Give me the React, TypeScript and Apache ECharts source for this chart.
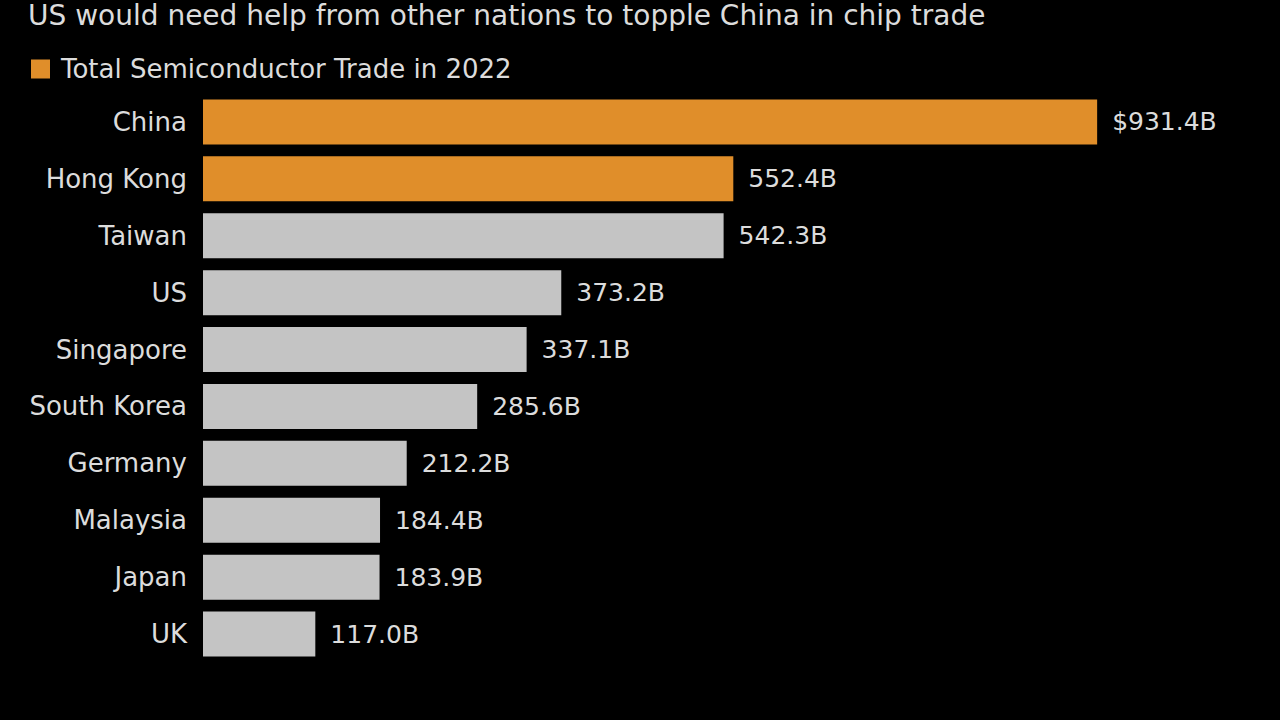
import React, { useEffect, useRef } from "react";
import * as echarts from "echarts";

const categories = ["China", "Hong Kong", "Taiwan", "US", "Singapore", "South Korea", "Germany", "Malaysia", "Japan", "UK"];
const values = [931.4, 552.4, 542.3, 373.2, 337.1, 285.6, 212.2, 184.4, 183.9, 117.0];
const highlighted = ["China", "Hong Kong"];
const titleText = "US would need help from other nations to topple China in chip trade";
const legendText = "Total Semiconductor Trade in 2022";

const ORANGE = "#E08E2A";
const GRAY = "#C4C4C4";
const TEXT = "#DCDCDC";
const FONT = "'DejaVu Sans', sans-serif";

export default function App() {
  const ref = useRef<HTMLDivElement>(null);
  useEffect(() => {
    if (!ref.current) return;
    const chart = echarts.init(ref.current, null, { renderer: "svg" });
    const data = values.map((v, i) => ({
      value: v,
      itemStyle: { color: highlighted.includes(categories[i]) ? ORANGE : GRAY },
    }));
    chart.setOption({
      animation: false,
      backgroundColor: "#000000",
      textStyle: { fontFamily: FONT },
      title: {
        text: titleText,
        left: 23,
        top: -4,
        textStyle: { color: TEXT, fontSize: 28, fontWeight: "normal", fontFamily: FONT },
      },
      legend: {
        show: true,
        left: 26,
        top: 51,
        itemWidth: 19,
        itemHeight: 19,
        itemGap: 10,
        icon: "rect",
        data: [{ name: legendText, itemStyle: { color: ORANGE } }],
        textStyle: { color: TEXT, fontSize: 26, fontFamily: FONT, padding: [0, 0, 0, 6] },
      },
      grid: { left: 203, right: 117, top: 93.5, height: 569, containLabel: false },
      xAxis: {
        type: "value",
        min: 0,
        max: 1000,
        show: false,
      },
      yAxis: {
        type: "category",
        data: categories,
        inverse: true,
        axisLine: { show: false },
        axisTick: { show: false },
        axisLabel: { color: TEXT, fontSize: 26, margin: 16, fontFamily: FONT },
      },
      series: [
        {
          name: legendText,
          type: "bar",
          data,
          barCategoryGap: "21%",
          itemStyle: { color: ORANGE },
          label: {
            show: true,
            position: "right",
            distance: 15,
            color: TEXT,
            fontSize: 25,
            fontFamily: FONT,
            formatter: (p: any) => (p.dataIndex === 0 ? "$" : "") + Number(p.value).toFixed(1) + "B",
          },
        },
      ],
    });
    return () => chart.dispose();
  }, []);
  return <div ref={ref} style={{ position: "absolute", left: 0, top: 0, width: 1280, height: 720 }} />;
}
